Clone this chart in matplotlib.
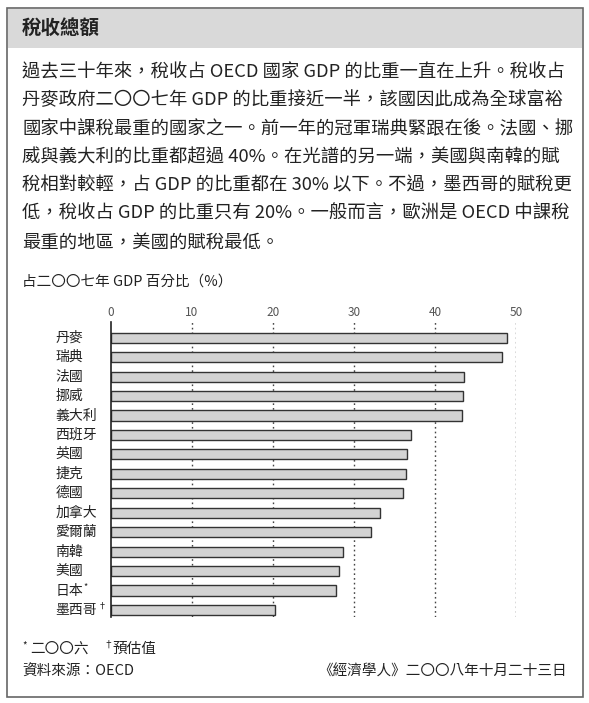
import matplotlib
matplotlib.use("Agg")
import matplotlib.pyplot as plt
from matplotlib.patches import Rectangle

plt.rcParams['font.family'] = ['Noto Sans CJK TC', 'DejaVu Sans']

countries = ["丹麥", "瑞典", "法國", "挪威", "義大利", "西班牙", "英國", "捷克",
             "德國", "加拿大", "愛爾蘭", "南韓", "美國", "日本", "墨西哥"]
marks = ["", "", "", "", "", "", "", "", "", "", "", "", "", "*", "†"]
values = [48.9, 48.3, 43.6, 43.4, 43.3, 37.1, 36.6, 36.4, 36.1, 33.2, 32.1,
          28.6, 28.2, 27.8, 20.3]
xticks = [0, 10, 20, 30, 40, 50]

title = "稅收總額"
body_lines = [
    "過去三十年來，稅收占 OECD 國家 GDP 的比重一直在上升。稅收占",
    "丹麥政府二〇〇七年 GDP 的比重接近一半，該國因此成為全球富裕",
    "國家中課稅最重的國家之一。前一年的冠軍瑞典緊跟在後。法國、挪",
    "威與義大利的比重都超過 40%。在光譜的另一端，美國與南韓的賦",
    "稅相對較輕，占 GDP 的比重都在 30% 以下。不過，墨西哥的賦稅更",
    "低，稅收占 GDP 的比重只有 20%。一般而言，歐洲是 OECD 中課稅",
    "最重的地區，美國的賦稅最低。",
]
chart_label = "占二〇〇七年 GDP 百分比（%）"
note1 = "二〇〇六"
note2 = "預估值"
source = "資料來源：OECD"
credit = "《經濟學人》二〇〇八年十月二十三日"

W, H = 589, 703
fig = plt.figure(figsize=(W / 100, H / 100), dpi=100)
fig.patch.set_facecolor("white")

def fx(px):
    return px / W

def fy(py):
    return 1 - py / H

TXT = "#222222"

# header band and outer box
fig.patches.append(Rectangle((fx(8), fy(48)), fx(582) - fx(8), fy(9) - fy(48),
                             transform=fig.transFigure, facecolor="#d9d9d9",
                             edgecolor="none", zorder=-2))
fig.patches.append(Rectangle((fx(7), fy(697)), fx(583) - fx(7), fy(8) - fy(697),
                             transform=fig.transFigure, facecolor="none",
                             edgecolor="#666666", linewidth=1.2, zorder=-1))

fig.text(fx(22), fy(28), title, fontsize=14, fontweight="bold", color=TXT,
         va="center", ha="left")

for i, line in enumerate(body_lines):
    fig.text(fx(22), fy(72 + i * 28.4), line, fontsize=13.2, color=TXT,
             va="center", ha="left")

fig.text(fx(22), fy(282), chart_label, fontsize=10.5, color=TXT, va="center", ha="left")

# axes
top_px, bot_px = 322, 617
left_px, right_px = 110.7, 516
ax = fig.add_axes([fx(left_px), fy(bot_px), fx(right_px) - fx(left_px), fy(top_px) - fy(bot_px)])
ypos = list(range(len(countries)))
ax.barh(ypos, values, height=0.52, color="#d3d3d3", edgecolor="#333333", linewidth=1.0, zorder=3)
ax.set_xlim(0, 50)
ax.set_ylim(14.36, -0.81)
ax.set_xticks(xticks)
ax.xaxis.tick_top()
ax.tick_params(axis="x", length=0, pad=2.5, labelsize=8.5, labelcolor="#555555")
ax.set_yticks([])
for s in ["top", "right", "bottom"]:
    ax.spines[s].set_visible(False)
ax.spines["left"].set_linewidth(1.2)
ax.spines["left"].set_color("#222222")
ax.spines["left"].set_zorder(4)
for t in xticks[1:]:
    ax.axvline(t, color="#444444", linestyle=(0, (1.2, 2.2)), linewidth=1.0, zorder=1)
ax.patch.set_alpha(0)

lab_x = -55.3 / 8.106
for i, c in enumerate(countries):
    t = ax.text(lab_x, i, c, fontsize=10, color=TXT, va="center", ha="left",
                transform=ax.transData)
    if marks[i]:
        ax.annotate(marks[i], xy=(1, 0.75), xycoords=t, fontsize=6.5, color=TXT,
                    va="center", ha="left", xytext=(0.5, 0), textcoords="offset points")

fig.text(fx(22), fy(646), "*", fontsize=7, color=TXT, va="center", ha="left")
fig.text(fx(30), fy(649), note1, fontsize=10.5, color=TXT, va="center", ha="left")
fig.text(fx(103), fy(645), "†", fontsize=7, color=TXT, va="center", ha="left")
fig.text(fx(112), fy(649), note2, fontsize=10.5, color=TXT, va="center", ha="left")
fig.text(fx(22), fy(672), source, fontsize=10.5, color=TXT, va="center", ha="left")
fig.text(fx(567), fy(672), credit, fontsize=10.5, color=TXT, va="center", ha="right")

fig.savefig("out.png", dpi=100)
